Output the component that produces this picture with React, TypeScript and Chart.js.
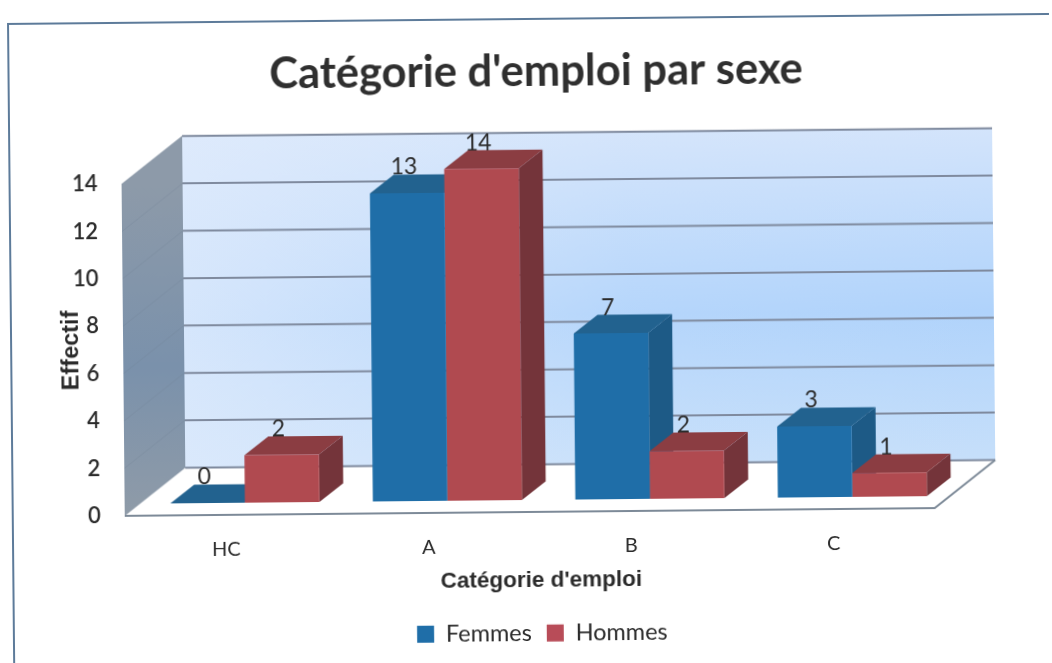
import React, { useEffect, useRef } from "react";
import { Chart, registerables } from "chart.js";

Chart.register(...registerables);

const categories = ["HC", "A", "B", "C"];
const femmes = [0, 13, 7, 3];
const hommes = [2, 14, 2, 1];
const yTicks = [0, 2, 4, 6, 8, 10, 12, 14];

const FRONT = ["#1f6ea8", "#b04a50"];
const TOP = ["#22628f", "#8b3d42"];
const SIDE = ["#1d5a86", "#74343a"];
const LEGEND = ["#1f6ea8", "#b84c58"];
const TEXT = "#2b2b2b";
const WALL = { dx: 61, dy: -47.5 };
const BAR_SHIFT = { dx: 19, dy: -12 };
const BAR_DEPTH = { dx: 24, dy: -18.5 };

const poly = (ctx: CanvasRenderingContext2D, pts: number[][], fill: string | CanvasGradient | null) => {
  ctx.beginPath();
  pts.forEach((p, i) => (i ? ctx.lineTo(p[0], p[1]) : ctx.moveTo(p[0], p[1])));
  ctx.closePath();
  if (fill) { ctx.fillStyle = fill; ctx.fill(); }
};

const scene = {
  id: "scene",
  afterLayout(chart: any) {
    chart.legend.left += 2;
  },
  beforeDraw(chart: any) {
    const ctx = chart.ctx as CanvasRenderingContext2D;
    const { x, y } = chart.scales;
    const L = x.left, R = x.right, T = y.top, B = y.bottom;
    const d = WALL;
    ctx.save();
    // outer frame
    ctx.strokeStyle = "#5d7b9a";
    ctx.lineWidth = 2;
    ctx.strokeRect(11, 19, 1100, 700);
    // back wall
    const wallPts = [[L + d.dx, T + d.dy], [R + d.dx, T + d.dy], [R + d.dx, B + d.dy], [L + d.dx, B + d.dy]];
    const g = ctx.createLinearGradient(0, T + d.dy, 0, B + d.dy);
    g.addColorStop(0, "#d3e4fb");
    g.addColorStop(0.55, "#b0d3fb");
    g.addColorStop(1, "#c6dffa");
    poly(ctx, wallPts, g);
    const h = ctx.createLinearGradient(L + d.dx, 0, R + d.dx, 0);
    h.addColorStop(0, "rgba(225,236,252,0.75)");
    h.addColorStop(0.55, "rgba(225,236,252,0.1)");
    h.addColorStop(1, "rgba(225,236,252,0)");
    poly(ctx, wallPts, h);
    // left wall
    const w = ctx.createLinearGradient(0, T, 0, B);
    w.addColorStop(0, "#8d9aa9");
    w.addColorStop(0.55, "#7a91ab");
    w.addColorStop(1, "#8f9ba8");
    poly(ctx, [[L, T], [L + d.dx, T + d.dy], [L + d.dx, B + d.dy], [L, B]], w);
    // floor
    poly(ctx, [[L, B], [R, B], [R + d.dx, B + d.dy], [L + d.dx, B + d.dy]], "#ffffff");
    // grid
    for (const v of yTicks) {
      const py = y.getPixelForValue(v);
      ctx.strokeStyle = "#7f8a9e";
      ctx.lineWidth = 2;
      ctx.beginPath();
      ctx.moveTo(L + d.dx, py + d.dy);
      ctx.lineTo(R + d.dx, py + d.dy);
      ctx.stroke();
      ctx.strokeStyle = "rgba(110,125,145,0.3)";
      ctx.lineWidth = 1;
      ctx.beginPath();
      ctx.moveTo(L, py);
      ctx.lineTo(L + d.dx, py + d.dy);
      ctx.stroke();
    }
    // floor edges
    ctx.strokeStyle = "#7d8a98";
    ctx.lineWidth = 2;
    ctx.beginPath();
    ctx.moveTo(L, B);
    ctx.lineTo(R, B);
    ctx.lineTo(R + d.dx, B + d.dy);
    ctx.stroke();
    ctx.restore();
  },
  beforeDatasetsDraw(chart: any) {
    const ctx = chart.ctx as CanvasRenderingContext2D;
    ctx.save();
    ctx.translate(BAR_SHIFT.dx, BAR_SHIFT.dy);
    [0, 1].forEach((ds) => {
      chart.getDatasetMeta(ds).data.forEach((bar: any) => {
        const l = bar.x - bar.width / 2, r = bar.x + bar.width / 2;
        const t = bar.y, b = bar.base;
        const { dx, dy } = BAR_DEPTH;
        poly(ctx, [[r, t], [r + dx, t + dy], [r + dx, b + dy], [r, b]], SIDE[ds]);
        poly(ctx, [[l, t], [l + dx, t + dy], [r + dx, t + dy], [r, t]], TOP[ds]);
      });
    });
  },
  afterDatasetsDraw(chart: any) {
    const ctx = chart.ctx as CanvasRenderingContext2D;
    ctx.restore();
    ctx.save();
    ctx.fillStyle = TEXT;
    ctx.font = "23px Lato";
    ctx.textAlign = "center";
    ctx.textBaseline = "middle";
    [femmes, hommes].forEach((vals, ds) => {
      chart.getDatasetMeta(ds).data.forEach((bar: any, i: number) => {
        ctx.fillText(String(vals[i]), bar.x + BAR_SHIFT.dx - 3, bar.y + BAR_SHIFT.dy - 26);
      });
    });
    ctx.restore();
  },
};

export default function App() {
  const ref = useRef<HTMLCanvasElement>(null);
  useEffect(() => {
    const chart = new Chart(ref.current as HTMLCanvasElement, {
      type: "bar",
      data: {
        labels: categories,
        datasets: [
          { label: "Femmes", data: femmes, backgroundColor: FRONT[0], clip: false, borderWidth: 0 } as any,
          { label: "Hommes", data: hommes, backgroundColor: FRONT[1], clip: false, borderWidth: 0 } as any,
        ],
      },
      plugins: [scene],
      options: {
        animation: false,
        responsive: false,
        layout: { padding: { left: 45, right: 20, top: 25, bottom: 8 } },
        datasets: { bar: { categoryPercentage: 0.736, barPercentage: 1 } },
        plugins: {
          tooltip: { enabled: false },
          title: {
            display: true,
            text: "Catégorie d'emploi par sexe",
            color: "#2f2f2f",
            font: { family: "Lato", size: 43.5, weight: "bold" },
            padding: { top: 21, bottom: 82 },
          },
          legend: {
            position: "bottom",
            onClick: () => {},
            labels: {
              boxWidth: 17,
              boxHeight: 17,
              padding: 15,
              color: TEXT,
              font: { family: "Lato", size: 23.5 },
              generateLabels: () =>
                ["Femmes", "Hommes"].map((t, i) => ({
                  text: t,
                  fillStyle: LEGEND[i],
                  strokeStyle: LEGEND[i],
                  lineWidth: 0,
                  fontColor: TEXT,
                  datasetIndex: i,
                })),
            },
          },
        },
        scales: {
          x: {
            grid: { display: false },
            border: { display: false },
            ticks: { color: TEXT, padding: 15, font: { family: "Lato", size: 20 }, maxRotation: 0 },
            title: {
              display: true,
              text: "Catégorie d'emploi",
              color: TEXT,
              font: { family: "Liberation Sans", size: 22.5, weight: "bold" },
              padding: { top: 8, bottom: 12 },
            },
            afterFit: (s: any) => {
              s.height = 94.5;
              if (!s.__shifted) {
                s.__shifted = true;
                const orig = s.drawTitle;
                s.drawTitle = function (...args: any[]) {
                  s.ctx.save();
                  s.ctx.translate(11, 0);
                  orig.apply(s, args);
                  s.ctx.restore();
                };
              }
            },
          },
          y: {
            min: 0,
            max: 14,
            grid: { display: false },
            border: { display: false },
            ticks: { color: TEXT, padding: 16, stepSize: 2, font: { family: "Lato", size: 22, weight: "600" } },
            title: {
              display: true,
              text: "Effectif",
              color: TEXT,
              font: { family: "Liberation Sans", size: 23.5, weight: "bold" },
              padding: { top: 12, bottom: 0 },
            },
            afterFit: (s: any) => { s.width = 78; },
          },
          y2: {
            position: "right",
            display: true,
            grid: { display: false },
            border: { display: false },
            ticks: { display: false },
            afterFit: (s: any) => { s.width = 99; },
          },
        },
      } as any,
    });
    return () => chart.destroy();
  }, []);
  return (
    <canvas
      ref={ref}
      width={1052}
      height={663}
      style={{
        position: "absolute",
        left: 0,
        top: 0,
        width: 1052,
        height: 663,
        transform: "rotate(-0.55deg)",
        transformOrigin: "526px 331px",
        filter: "blur(0.4px)",
      }}
    />
  );
}
